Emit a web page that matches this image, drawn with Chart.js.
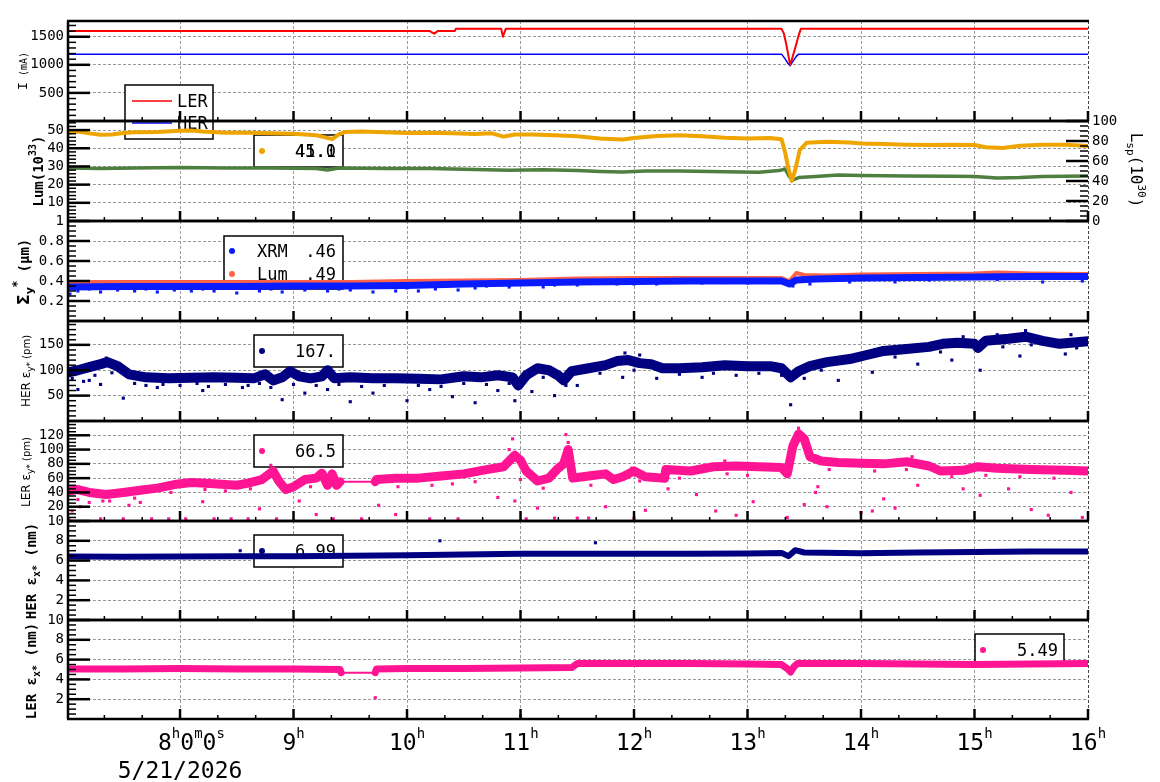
<!DOCTYPE html>
<html>
<head>
<meta charset="utf-8">
<script src="https://cdn.jsdelivr.net/npm/chart.js@4.4.1/dist/chart.umd.min.js"></script>
<style>
body { margin: 0; background: #fff; }
#wrap { position: relative; width: 1160px; height: 782px; }
#wrap canvas { position: absolute; left: 0; top: 0; }
</style>
</head>
<body>
<div id="wrap"></div>
<script>
// ---- data (hours, value) ----
const tStart = 7.013, tEnd = 16
const hourTicks = [8, 9, 10, 11, 12, 13, 14, 15, 16]
const hourLabels = ['8h0m0s', '9h', '10h', '11h', '12h', '13h', '14h', '15h', '16h']
const dateLabel = '5/21/2026'

// beam currents (mA)
const lerCur = [[7.013,1600],[10.20,1600],[10.24,1555],[10.27,1600],[10.42,1600],[10.43,1640],[10.83,1640],[10.845,1500],[10.87,1640],[13.30,1640],[13.32,1560],[13.34,1380],[13.36,1170],[13.375,1000],[13.39,1090],[13.42,1300],[13.45,1520],[13.47,1640],[16.0,1640]]
const herCur = [[7.013,1190],[13.30,1190],[13.33,1110],[13.355,1030],[13.375,985],[13.40,1060],[13.43,1150],[13.45,1190],[16.0,1190]]

// luminosity (10^33) and specific luminosity (10^30)
const lumTot = [[7.013,48.6],[7.1,49.2],[7.2,48.2],[7.3,47.4],[7.4,47.6],[7.5,48.4],[7.6,48.8],[7.8,49.0],[8.0,49.6],[8.1,49.8],[8.2,49.2],[8.4,48.6],[8.6,48.6],[8.8,48.2],[9.0,48.0],[9.1,47.6],[9.2,47.2],[9.28,46.0],[9.34,45.0],[9.4,47.6],[9.46,49.0],[9.6,49.2],[9.8,48.8],[10.0,48.4],[10.2,48.6],[10.4,48.2],[10.6,47.8],[10.75,48.2],[10.85,46.4],[10.95,47.6],[11.1,47.6],[11.3,47.2],[11.5,46.6],[11.7,45.4],[11.9,44.8],[12.0,45.6],[12.2,46.8],[12.4,47.2],[12.6,46.6],[12.8,45.8],[13.0,45.4],[13.2,45.6],[13.3,45.0],[13.33,38],[13.36,29],[13.39,22],[13.42,28],[13.46,39],[13.52,43],[13.7,43.6],[13.9,43.2],[14.0,42.6],[14.2,42.4],[14.4,42.0],[14.6,41.8],[14.8,42.0],[15.0,41.8],[15.1,40.6],[15.25,40.2],[15.4,41.4],[15.6,42.0],[15.8,42.0],[16.0,41.2]]
const lumSp = [[7.013,53.0],[7.3,52.4],[7.6,53.0],[8.0,53.6],[8.4,53.0],[8.8,53.0],[9.2,52.6],[9.3,51.0],[9.4,53.0],[9.8,52.4],[10.2,52.4],[10.6,51.6],[10.9,50.8],[11.2,51.2],[11.5,50.4],[11.7,49.6],[11.9,49.0],[12.1,50.0],[12.4,50.0],[12.8,49.2],[13.1,48.8],[13.28,50.4],[13.33,52.0],[13.37,44.0],[13.40,41.0],[13.45,43.4],[13.6,44.6],[13.8,46.0],[14.0,45.6],[14.4,45.0],[14.8,44.8],[15.0,44.4],[15.2,43.0],[15.4,43.4],[15.6,44.6],[16.0,45.0]]

// vertical beam size (um)
const sigXrm = [[7.013,0.34],[7.5,0.345],[8.0,0.345],[8.5,0.345],[9.0,0.35],[9.5,0.35],[10.0,0.355],[10.5,0.37],[11.0,0.38],[11.5,0.39],[12.0,0.395],[12.5,0.40],[13.0,0.40],[13.3,0.40],[13.37,0.37],[13.43,0.41],[13.6,0.42],[14.0,0.43],[14.5,0.435],[15.0,0.44],[15.5,0.445],[16.0,0.445]]
const sigLum = [[7.013,0.39],[8.0,0.39],[9.0,0.39],[9.5,0.39],[10.0,0.40],[10.5,0.405],[11.0,0.41],[11.5,0.425],[12.0,0.43],[12.5,0.43],[13.0,0.43],[13.3,0.43],[13.37,0.40],[13.43,0.48],[13.5,0.46],[13.7,0.455],[14.0,0.465],[14.5,0.47],[15.0,0.475],[15.2,0.485],[15.5,0.475],[16.0,0.47]]
const sigXrmOut = [[7.03,0.27],[7.1,0.3],[7.2,0.32],[7.3,0.29],[7.45,0.31],[7.6,0.3],[7.7,0.32],[7.8,0.29],[7.95,0.31],[8.1,0.3],[8.2,0.32],[8.3,0.3],[8.5,0.28],[8.7,0.3],[8.8,0.32],[8.9,0.29],[9.1,0.31],[9.3,0.3],[9.4,0.32],[9.5,0.31],[9.7,0.29],[9.9,0.3],[10.0,0.33],[10.1,0.3],[10.25,0.32],[10.45,0.31],[10.6,0.33],[10.7,0.35],[10.9,0.34],[11.2,0.34],[11.3,0.36],[11.5,0.36],[11.85,0.37],[12.0,0.37],[12.2,0.37],[12.6,0.38],[12.8,0.385],[13.0,0.38],[13.2,0.385],[13.4,0.35],[13.55,0.37],[13.9,0.39],[14.3,0.39],[14.6,0.41],[15.2,0.415],[15.6,0.39],[15.95,0.4]]

// HER vertical emittance (pm)
const herEy = [[7.013,96],[7.1,100],[7.2,106],[7.3,112],[7.36,116],[7.45,108],[7.55,92],[7.7,86],[7.9,84],[8.1,85],[8.3,86],[8.5,85],[8.65,84],[8.75,92],[8.82,80],[8.9,86],[8.97,98],[9.05,88],[9.15,84],[9.25,88],[9.3,100],[9.36,84],[9.5,86],[9.7,84],[9.9,84],[10.1,83],[10.3,82],[10.5,88],[10.65,86],[10.8,90],[10.93,86],[10.98,70],[11.05,90],[11.15,104],[11.25,100],[11.33,90],[11.38,80],[11.45,98],[11.6,104],[11.75,110],[11.85,118],[11.95,120],[12.05,114],[12.15,112],[12.25,104],[12.4,104],[12.6,106],[12.8,110],[13.0,108],[13.2,108],[13.3,104],[13.38,86],[13.45,98],[13.55,108],[13.7,116],[13.9,122],[14.05,130],[14.2,138],[14.4,142],[14.6,146],[14.72,152],[14.85,154],[15.0,152],[15.03,144],[15.1,158],[15.3,162],[15.45,166],[15.6,158],[15.75,152],[15.9,155],[16.0,157]]
const herEyOut = [[7.05,84],[7.1,62],[7.15,78],[7.2,80],[7.25,90],[7.3,72],[7.35,124],[7.4,95],[7.5,45],[7.6,74],[7.7,70],[7.8,66],[7.85,72],[8.0,70],[8.15,74],[8.2,60],[8.25,68],[8.4,72],[8.55,66],[8.6,70],[8.7,74],[8.8,66],[8.9,42],[9.0,72],[9.1,55],[9.2,70],[9.3,62],[9.4,72],[9.5,38],[9.6,68],[9.7,55],[9.8,70],[10.0,40],[10.1,70],[10.2,62],[10.3,68],[10.4,48],[10.5,74],[10.6,36],[10.7,72],[10.8,60],[10.9,74],[10.95,40],[11.1,58],[11.2,86],[11.3,50],[11.4,70],[11.5,70],[11.7,94],[11.9,86],[11.92,134],[12.0,100],[12.05,130],[12.2,84],[12.4,92],[12.6,86],[12.7,94],[12.9,90],[13.1,94],[13.3,90],[13.38,32],[13.5,84],[13.65,100],[13.8,80],[14.1,96],[14.3,126],[14.5,112],[14.7,136],[14.8,120],[14.9,166],[15.05,100],[15.2,170],[15.25,146],[15.4,128],[15.45,178],[15.5,150],[15.8,132],[15.85,170],[15.9,144]]

// LER vertical emittance (pm)
const lerEy = [[7.013,42],[7.1,44],[7.2,40],[7.35,37],[7.5,40],[7.65,43],[7.8,46],[7.95,51],[8.1,54],[8.3,52],[8.5,50],[8.6,53],[8.72,58],[8.82,70],[8.87,56],[8.93,44],[9.0,48],[9.1,58],[9.2,60],[9.25,67],[9.3,50],[9.34,66],[9.38,50],[9.41,55],[9.72,55],[9.73,58],[9.9,60],[10.1,60],[10.3,63],[10.5,66],[10.7,72],[10.85,76],[10.95,92],[11.0,85],[11.05,70],[11.15,56],[11.25,60],[11.32,72],[11.38,80],[11.42,100],[11.46,60],[11.55,62],[11.65,64],[11.75,66],[11.82,58],[11.9,62],[12.0,70],[12.1,62],[12.27,60],[12.28,72],[12.5,70],[12.7,76],[12.9,77],[13.1,76],[13.3,75],[13.35,66],[13.4,105],[13.45,122],[13.5,115],[13.55,90],[13.65,84],[13.8,82],[14.0,81],[14.2,80],[14.4,83],[14.6,77],[14.7,70],[14.9,71],[15.03,76],[15.2,74],[15.5,72],[15.8,71],[16.0,70]]
const lerEyOut = [[7.02,3],[7.05,14],[7.1,30],[7.12,20],[7.2,26],[7.3,3],[7.32,28],[7.38,28],[7.5,3],[7.55,22],[7.6,32],[7.65,26],[7.75,3],[7.9,3],[7.92,40],[8.05,3],[8.2,27],[8.22,44],[8.3,3],[8.4,42],[8.45,3],[8.6,3],[8.62,45],[8.7,17],[8.8,78],[8.85,3],[9.05,28],[9.15,48],[9.2,9],[9.35,3],[9.6,3],[9.75,22],[9.9,9],[9.92,48],[10.2,3],[10.22,50],[10.4,52],[10.45,3],[10.6,55],[10.8,33],[10.9,100],[10.93,115],[10.95,28],[11.0,58],[11.05,3],[11.15,18],[11.2,46],[11.3,4],[11.4,121],[11.42,110],[11.5,4],[11.6,4],[11.62,50],[11.75,20],[11.98,74],[12.0,4],[12.05,56],[12.1,15],[12.3,45],[12.4,60],[12.55,37],[12.72,14],[12.8,84],[12.82,66],[12.9,8],[13.0,64],[13.05,27],[13.35,5],[13.45,130],[13.5,23],[13.6,40],[13.62,48],[13.7,20],[13.72,72],[14.0,12],[14.1,14],[14.12,70],[14.2,31],[14.3,18],[14.4,72],[14.45,90],[14.5,50],[14.8,62],[14.9,45],[15.05,36],[15.1,64],[15.3,45],[15.4,62],[15.5,16],[15.65,8],[15.7,60],[15.85,40],[15.95,5]]
const lerFlat = [9.41, 9.72]

// horizontal emittances (nm)
const herEx = [[7.013,6.42],[7.5,6.4],[8.0,6.42],[8.5,6.45],[9.0,6.45],[9.5,6.5],[10.0,6.55],[10.5,6.62],[11.0,6.68],[11.5,6.7],[12.0,6.7],[12.5,6.7],[13.0,6.72],[13.3,6.78],[13.36,6.45],[13.42,7.05],[13.5,6.82],[14.0,6.75],[14.5,6.82],[15.0,6.88],[15.5,6.92],[16.0,6.92]]
const herExOut = [[8.53,7.0],[10.29,8.0],[11.66,7.8]]
const lerEx = [[7.013,5.05],[7.5,5.05],[8.0,5.1],[8.5,5.05],[9.0,5.05],[9.41,5.0],[9.42,4.67],[9.72,4.67],[9.73,5.05],[10.0,5.1],[10.5,5.1],[11.0,5.15],[11.45,5.2],[11.5,5.6],[12.0,5.6],[12.5,5.6],[13.0,5.55],[13.3,5.5],[13.35,5.1],[13.38,4.75],[13.41,5.3],[13.44,5.6],[14.0,5.6],[14.5,5.55],[15.0,5.5],[15.5,5.55],[16.0,5.6]]
const lerExOut = [[9.72,2.15],[11.0,0.3]]
const lerExFlat = [9.42, 9.72]

// ---- styling ----
const MONO = "'DejaVu Sans Mono', monospace"
const SANS = "'DejaVu Sans', sans-serif"
const GRID = '#9a9a9a'
const RED = '#ff0000', BLUE = '#0000ff', GOLD = '#efa500', GREEN = '#4f7f3f'
const XBLUE = '#0a1cff', TOMATO = '#ff6347', NAVY = '#000080', PINK = '#ff1493'

const toXY = arr => arr.map(p => ({ x: p[0], y: p[1] }))

function lineSet(arr, color, width, axis, flat) {
    const ds = {
        type: 'line', data: toXY(arr), borderColor: color, borderWidth: width,
        pointRadius: 0, tension: 0, borderJoinStyle: 'round', borderCapStyle: 'round',
        yAxisID: axis || 'y', clip: 0
    }
    if (flat) {
        ds.segment = { borderWidth: c => (c.p0.parsed.x >= flat[0] - 1e-6 && c.p1.parsed.x <= flat[1] + 1e-6) ? 2 : undefined }
    }
    return ds
}
function dotSet(arr, color) {
    return { type: 'line', data: toXY(arr), pointStyle: 'rect', pointRadius: 2.2,
        backgroundColor: color, pointBorderWidth: 0, borderWidth: 0, showLine: false, clip: 0 }
}

function drawRuns(ctx, runs, x, y, align) {
    let w = 0
    runs.forEach(r => { ctx.font = r.f; w += ctx.measureText(r.t).width })
    let cx = align === 'center' ? x - w / 2 : (align === 'right' ? x - w : x)
    ctx.textAlign = 'left'
    ctx.textBaseline = 'alphabetic'
    runs.forEach(r => {
        ctx.font = r.f
        ctx.fillText(r.t, cx, y + (r.dy || 0))
        cx += ctx.measureText(r.t).width
    })
}

const panels = [
    {
        top: 21, bottom: 121, yMin: 0, yMax: 1780, yTicks: [500, 1000, 1500], yLabels: ['500', '1000', '1500'], yMinor: 100,
        title: [{ t: 'I', f: '13px ' + MONO }, { t: ' (mA)', f: '10px ' + MONO }], titleX: 22, titleY: 71,
        legend: { x: 125, y: 85, w: 88, h: 54, rows: [
            { line: true, color: RED, x0: 132, x1: 172, my: 101, name: 'LER', nx: 177, by: 107, vals: [] },
            { line: true, color: BLUE, x0: 132, x1: 172, my: 123, name: 'HER', nx: 177, by: 129, vals: [] }] },
        sets: [lineSet(lerCur, RED, 2), lineSet(herCur, BLUE, 1.5)]
    },
    {
        top: 121, bottom: 221, yMin: 0, yMax: 55, yTicks: [10, 20, 30, 40, 50], yLabels: ['10', '20', '30', '40', '50'], yMinor: 2,
        title: [{ t: 'Lum(10', f: 'bold 14px ' + MONO }, { t: '33', f: 'bold 10px ' + MONO, dy: -7 }, { t: ')', f: 'bold 14px ' + MONO }], titleX: 38, titleY: 171,
        right: { min: 0, max: 100, ticks: [0, 20, 40, 60, 80, 100], labels: ['0', '20', '40', '60', '80', '100'], minor: 5,
            title: [{ t: 'L', f: '16px ' + MONO }, { t: 'sp', f: '11px ' + MONO, dy: 4 }, { t: '(10', f: '16px ' + MONO }, { t: '30', f: '11px ' + MONO, dy: -7 }, { t: ')', f: '16px ' + MONO }],
            titleX: 1136, titleY: 170 },
        legend: { x: 254, y: 135, w: 89, h: 32, rows: [
            { color: GOLD, mx: 262, my: 151, by: 157, vx: 336, vals: ['45.0', '41.1'] }] },
        sets: [lineSet(lumTot, GOLD, 4), lineSet(lumSp, GREEN, 3.5, 'y2')]
    },
    {
        top: 221, bottom: 321, yMin: 0, yMax: 1, yTicks: [0.2, 0.4, 0.6, 0.8, 1], yLabels: ['0.2', '0.4', '0.6', '0.8', '1'], yMinor: 0.05,
        title: [{ t: 'Σ', f: 'bold 16px ' + SANS }, { t: 'y', f: 'bold 11px ' + SANS, dy: 4 }, { t: '*', f: 'bold 12px ' + SANS, dy: -8 }, { t: ' (μm)', f: 'bold 14px ' + MONO }], titleX: 24, titleY: 272,
        legend: { x: 224, y: 236, w: 119, h: 53, rows: [
            { color: XBLUE, mx: 232, my: 251, name: 'XRM', nx: 257, by: 257, vx: 336, vals: ['.46'] },
            { color: TOMATO, mx: 232, my: 274, name: 'Lum', nx: 257, by: 280, vx: 336, vals: ['.49'] }] },
        sets: [dotSet(sigXrmOut, XBLUE), lineSet(sigXrm, XBLUE, 7), lineSet(sigLum, TOMATO, 4)]
    },
    {
        top: 321, bottom: 421, yMin: 0, yMax: 197, yTicks: [50, 100, 150], yLabels: ['50', '100', '150'], yMinor: 10,
        title: [{ t: 'HER ε', f: '12px ' + SANS }, { t: 'y*', f: '9px ' + SANS, dy: 3 }, { t: ' (pm)', f: '10px ' + SANS }], titleX: 25, titleY: 371,
        legend: { x: 254, y: 335, w: 89, h: 32, rows: [
            { color: NAVY, mx: 262, my: 351, by: 357, vx: 336, vals: ['167.'] }] },
        sets: [dotSet(herEyOut, NAVY), lineSet(herEy, NAVY, 10)]
    },
    {
        top: 421, bottom: 521, yMin: 0, yMax: 140, yTicks: [20, 40, 60, 80, 100, 120], yLabels: ['20', '40', '60', '80', '100', '120'], yMinor: 5,
        title: [{ t: 'LER ε', f: '12px ' + SANS }, { t: 'y*', f: '9px ' + SANS, dy: 3 }, { t: ' (pm)', f: '10px ' + SANS }], titleX: 25, titleY: 472,
        legend: { x: 254, y: 435, w: 89, h: 32, rows: [
            { color: PINK, mx: 262, my: 451, by: 457, vx: 336, vals: ['66.5'] }] },
        sets: [dotSet(lerEyOut, PINK), lineSet(lerEy, PINK, 9, 'y', lerFlat)]
    },
    {
        top: 521, bottom: 620, yMin: 0, yMax: 10, yTicks: [2, 4, 6, 8, 10], yLabels: ['2', '4', '6', '8', '10'], yMinor: 0.5,
        title: [{ t: 'HER ε', f: 'bold 14px ' + MONO }, { t: 'x*', f: 'bold 10px ' + MONO, dy: 4 }, { t: ' (nm)', f: 'bold 14px ' + MONO }], titleX: 31, titleY: 571,
        legend: { x: 254, y: 535, w: 89, h: 32, rows: [
            { color: NAVY, mx: 262, my: 551, by: 557, vx: 336, vals: ['6.99'] }] },
        sets: [dotSet(herExOut, NAVY), lineSet(herEx, NAVY, 6)]
    },
    {
        top: 620, bottom: 719, yMin: 0, yMax: 10, yTicks: [2, 4, 6, 8, 10], yLabels: ['2', '4', '6', '8', '10'], yMinor: 0.5,
        title: [{ t: 'LER ε', f: 'bold 14px ' + MONO }, { t: 'x*', f: 'bold 10px ' + MONO, dy: 4 }, { t: ' (nm)', f: 'bold 14px ' + MONO }], titleX: 31, titleY: 671,
        legend: { x: 975, y: 634, w: 89, h: 32, rows: [
            { color: PINK, mx: 983, my: 650, by: 656, vx: 1058, vals: ['5.49'] }] },
        sets: [dotSet(lerExOut, PINK), lineSet(lerEx, PINK, 7, 'y', lerExFlat)]
    }
]

function seg(ctx, x0, y0, x1, y1) {
    ctx.beginPath(); ctx.moveTo(x0, y0); ctx.lineTo(x1, y1); ctx.stroke()
}

function minorTicks(ctx, scale, min, max, step, majors, xEdge, len) {
    const n0 = Math.ceil(min / step - 1e-6), n1 = Math.floor(max / step + 1e-6)
    for (let k = n0; k <= n1; k++) {
        const v = k * step
        if (majors.some(m => Math.abs(m - v) < step / 10)) continue
        const py = scale.getPixelForValue(v)
        seg(ctx, xEdge, py, xEdge + len, py)
    }
}

function makeDeco(p, isLast) {
    return {
        id: 'deco',
        beforeDatasetsDraw(chart) {
            const ctx = chart.ctx, L = p.legend
            if (!L) return
            ctx.save()
            ctx.fillStyle = '#fff'
            ctx.fillRect(L.x, L.y, L.w, L.h)
            ctx.strokeStyle = '#000'
            ctx.lineWidth = 1.5
            ctx.strokeRect(L.x, L.y, L.w, L.h)
            L.rows.forEach(r => {
                if (r.line) {
                    ctx.strokeStyle = r.color
                    ctx.lineWidth = 1.5
                    seg(ctx, r.x0, r.my, r.x1, r.my)
                } else {
                    ctx.fillStyle = r.color
                    ctx.beginPath(); ctx.arc(r.mx, r.my, 3, 0, Math.PI * 2); ctx.fill()
                }
                ctx.fillStyle = '#000'
                ctx.font = '17px ' + MONO
                ctx.textBaseline = 'alphabetic'
                if (r.name) { ctx.textAlign = 'left'; ctx.fillText(r.name, r.nx, r.by) }
                ctx.textAlign = 'right'
                r.vals.forEach(v => ctx.fillText(v, r.vx, r.by))
            })
            ctx.restore()
        },
        afterDatasetsDraw(chart) {
            const ctx = chart.ctx, a = chart.chartArea, ys = chart.scales.y, xs = chart.scales.x
            ctx.save()
            ctx.strokeStyle = '#000'
            // y ticks, pointing inward
            ctx.lineWidth = 2.5
            p.yTicks.forEach(v => { const py = ys.getPixelForValue(v); seg(ctx, a.left, py, a.left + 22, py) })
            ctx.lineWidth = 1.5
            minorTicks(ctx, ys, p.yMin, p.yMax, p.yMinor, p.yTicks, a.left, 8)
            if (p.right) {
                const rs = chart.scales.y2
                ctx.lineWidth = 2.5
                p.right.ticks.forEach(v => { const py = rs.getPixelForValue(v); seg(ctx, a.right, py, a.right - 22, py) })
                ctx.lineWidth = 1.5
                minorTicks(ctx, rs, p.right.min, p.right.max, p.right.minor, p.right.ticks, a.right, -8)
            }
            // x ticks from the bottom edge
            ctx.lineWidth = 2.5
            hourTicks.forEach(h => { const px = xs.getPixelForValue(h); seg(ctx, px, a.bottom, px, a.bottom - 10) })
            ctx.lineWidth = 1.5
            for (let h = 7; h < 16; h++) {
                [1 / 3, 2 / 3].forEach(f => {
                    const v = h + f
                    if (v < tStart) return
                    const px = xs.getPixelForValue(v)
                    seg(ctx, px, a.bottom, px, a.bottom - 4)
                })
            }
            // frame
            ctx.lineWidth = 2.5
            seg(ctx, a.left - 1, a.top, a.right + 1, a.top)
            seg(ctx, a.left, a.top, a.left, a.bottom)
            seg(ctx, a.left - 1, a.bottom, a.right + 1, a.bottom)

            // axis titles
            ctx.fillStyle = '#000'
            ctx.save()
            ctx.translate(p.titleX, p.titleY)
            ctx.rotate(-Math.PI / 2)
            drawRuns(ctx, p.title, 0, 5, 'center')
            ctx.restore()
            if (p.right) {
                ctx.save()
                ctx.translate(p.right.titleX, p.right.titleY)
                ctx.rotate(Math.PI / 2)
                drawRuns(ctx, p.right.title, 0, 5, 'center')
                ctx.restore()
            }
            // time labels with superscript units
            if (isLast) {
                hourTicks.forEach((h, i) => {
                    const px = xs.getPixelForValue(h)
                    const runs = hourLabels[i].split('').map(c => /[a-z]/.test(c)
                        ? { t: c, f: '14px ' + MONO, dy: -12 }
                        : { t: c, f: '23px ' + MONO })
                    if (i === 0) drawRuns(ctx, runs, px - 22, 750, 'left')
                    else drawRuns(ctx, runs, px, 750, 'center')
                })
                drawRuns(ctx, [{ t: dateLabel, f: '23px ' + MONO }], xs.getPixelForValue(hourTicks[0]), 778, 'center')
            }
            ctx.restore()
        }
    }
}

// only whole hours get a grid line
const xGridColor = c => {
    if (!c.tick || !hourTicks.includes(c.tick.value)) return 'rgba(0,0,0,0)'
    return c.tick.value === 16 ? '#444' : GRID
}

const wrap = document.getElementById('wrap')
panels.forEach((p, i) => {
    const cv = document.createElement('canvas')
    cv.width = 1160
    cv.height = 782
    wrap.appendChild(cv)
    const isLast = i === panels.length - 1

    const scales = {
        x: {
            type: 'linear', min: tStart, max: tEnd,
            afterBuildTicks: s => { s.ticks = hourTicks.map(v => ({ value: v })) },
            afterFit: s => { s.height = 0 },
            ticks: { display: false, stepSize: 1 },
            grid: { color: xGridColor, lineWidth: 1, drawTicks: false },
            border: { display: false, dash: [3, 2] }
        },
        y: {
            type: 'linear', position: 'left', min: p.yMin, max: p.yMax,
            afterBuildTicks: s => { s.ticks = p.yTicks.map(v => ({ value: v })) },
            afterFit: s => { s.width = 68 },
            ticks: { autoSkip: false, padding: 4, color: '#000', font: { family: MONO, size: 14 },
                callback: (v, idx) => p.yLabels[idx] },
            grid: { color: GRID, lineWidth: 1, drawTicks: false },
            border: { display: false, dash: [3, 2] }
        }
    }
    if (p.right) {
        scales.y2 = {
            type: 'linear', position: 'right', min: p.right.min, max: p.right.max,
            afterBuildTicks: s => { s.ticks = p.right.ticks.map(v => ({ value: v })) },
            afterFit: s => { s.width = 72 },
            ticks: { autoSkip: false, padding: 4, color: '#000', font: { family: MONO, size: 14 },
                callback: (v, idx) => p.right.labels[idx] },
            grid: { display: false, drawTicks: false },
            border: { display: false }
        }
    }

    new Chart(cv, {
        type: 'line',
        data: { datasets: p.sets },
        options: {
            responsive: false,
            devicePixelRatio: 1,
            animation: false,
            events: [],
            layout: { padding: { top: p.top, bottom: 782 - p.bottom, left: 0, right: p.right ? 0 : 72 } },
            plugins: { legend: { display: false }, tooltip: { enabled: false } },
            scales: scales
        },
        plugins: [makeDeco(p, isLast)]
    })
})
</script>
</body>
</html>
